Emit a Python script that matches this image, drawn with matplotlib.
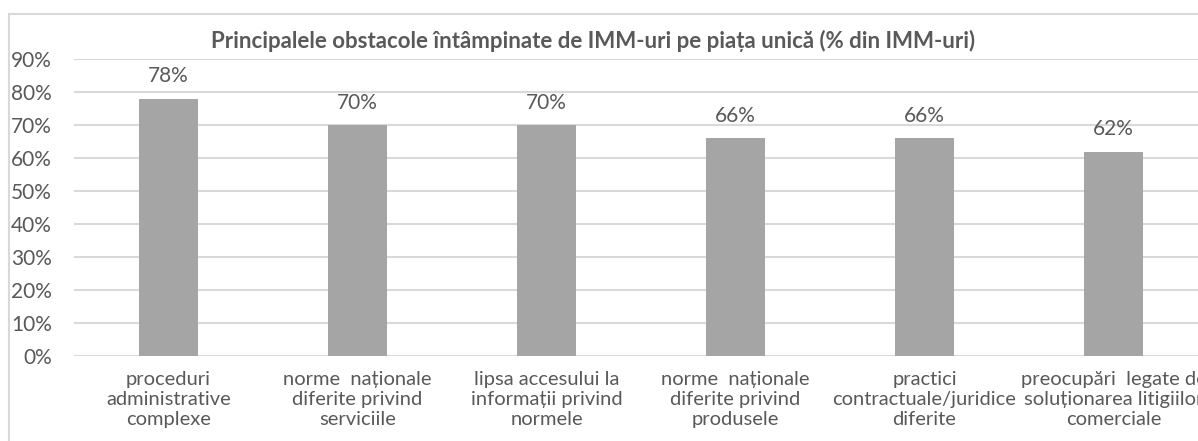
import matplotlib
matplotlib.use('Agg')
import matplotlib.pyplot as plt
from matplotlib.patches import Rectangle
from matplotlib.ticker import PercentFormatter

plt.rcParams['font.family'] = ['Lato', 'DejaVu Sans']

# date
categorii = ['proceduri\nadministrative\ncomplexe',
             'norme  naționale\ndiferite privind\nserviciile',
             'lipsa accesului la\ninformații privind\nnormele',
             'norme  naționale\ndiferite privind\nprodusele',
             'practici\ncontractuale/juridice\ndiferite',
             'preocupări  legate de\nsoluționarea litigiilor\ncomerciale']
valori = [78, 70, 70, 66, 66, 62]
titlu = 'Principalele obstacole întâmpinate de IMM-uri pe piața unică (% din IMM-uri)'

text_col = '#595959'
grid_col = '#d9d9d9'

fig = plt.figure(figsize=(11.98, 4.41), dpi=100)
W, H = 1198, 441
ax = fig.add_axes([74 / W, 1 - 356 / H, 1134 / W, (356 - 59.3) / H])

x = range(len(valori))
bars = ax.bar(x, valori, width=0.315, color='#a5a5a5', zorder=3)
for b, v in zip(bars, valori):
    ax.annotate(f'{v}%', (b.get_x() + b.get_width() / 2, v), xytext=(0, 9),
                textcoords='offset points', ha='center', va='bottom',
                fontsize=15, color=text_col)

ax.set_xlim(-0.5, len(valori) - 0.5)
ax.set_ylim(0, 90)
ax.set_yticks(range(0, 91, 10))
ax.yaxis.set_major_formatter(PercentFormatter(decimals=0))
ax.set_xticks(list(x))
ax.set_xticklabels(categorii, fontsize=14.5, color=text_col, linespacing=1.2)
ax.tick_params(axis='y', length=0, pad=16, labelsize=15, labelcolor=text_col)
ax.tick_params(axis='x', length=0, pad=11)
ax.grid(axis='y', color=grid_col, linewidth=1.5, zorder=0)
for s in ax.spines.values():
    s.set_visible(False)

# titlu
fig.text(593 / W, 1 - 41 / H, titlu, ha='center', va='center',
         fontsize=16, fontweight='bold', color=text_col)

# chenarul graficului
fig.patches.append(Rectangle((8.5 / W, -0.2), 1.2, 1.2 - 14 / H,
                             transform=fig.transFigure, fill=False,
                             edgecolor=grid_col, linewidth=1.5))

fig.savefig('out.png', dpi=100)
